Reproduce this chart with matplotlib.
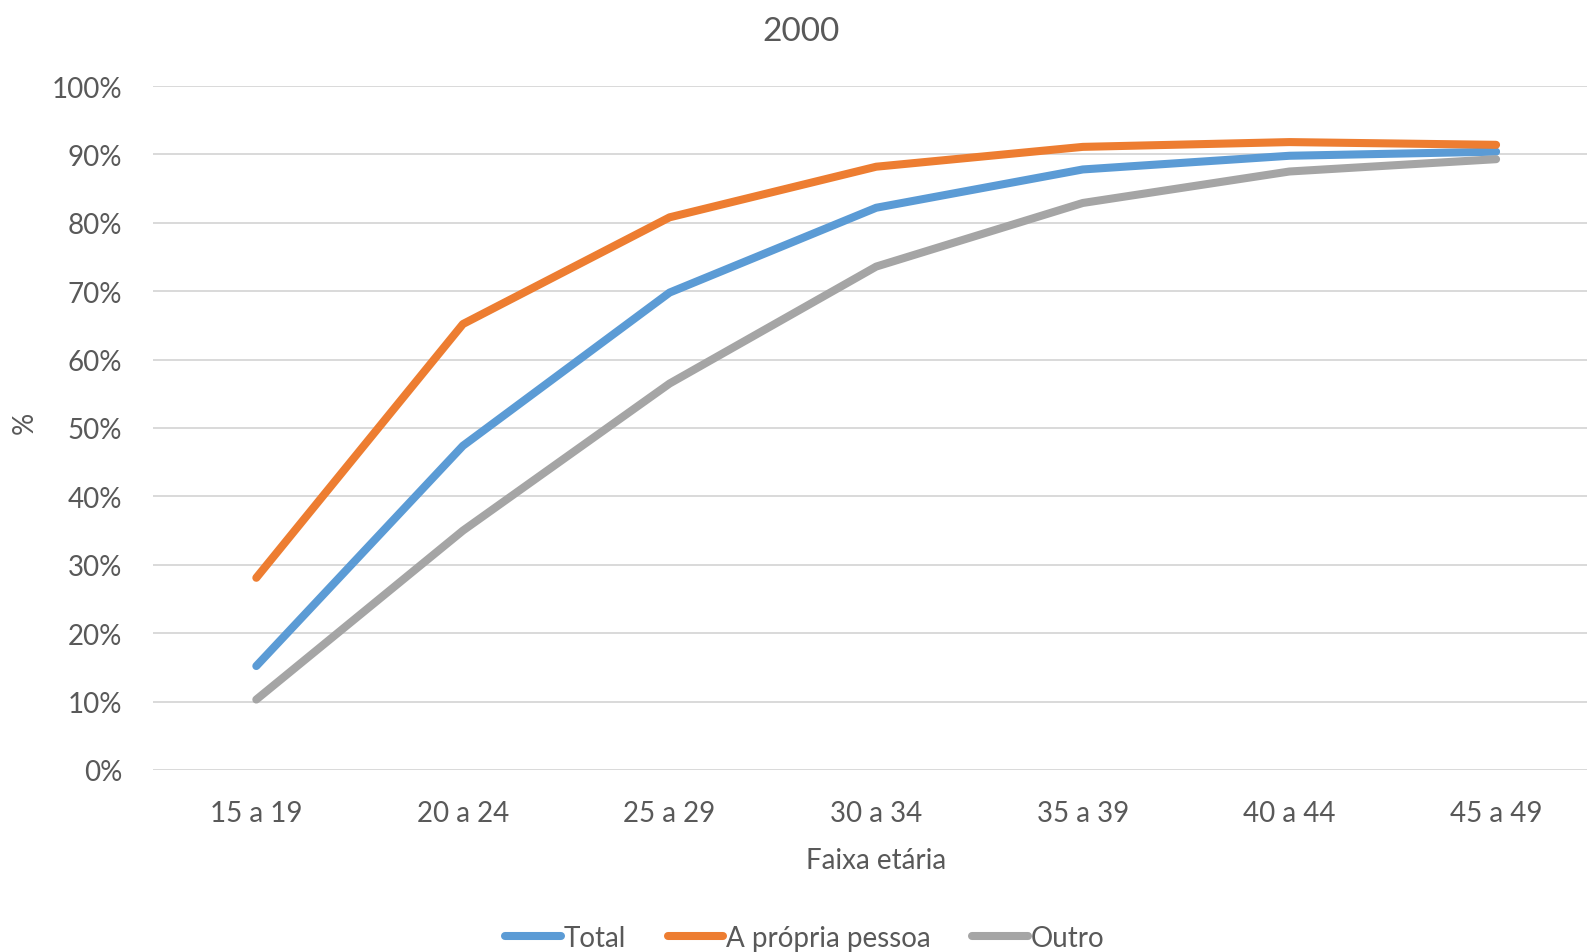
import matplotlib
matplotlib.use("Agg")
import matplotlib.pyplot as plt
from matplotlib.lines import Line2D

categories = ["15 a 19", "20 a 24", "25 a 29", "30 a 34", "35 a 39", "40 a 44", "45 a 49"]
total = [15.2, 47.4, 69.8, 82.2, 87.8, 89.8, 90.4]
propria = [28.1, 65.2, 80.8, 88.2, 91.1, 91.8, 91.4]
outro = [10.3, 35.0, 56.5, 73.6, 82.9, 87.5, 89.3]
yticks = [0, 10, 20, 30, 40, 50, 60, 70, 80, 90, 100]
series_names = ["Total", "A própria pessoa", "Outro"]
colors = ["#5B9BD5", "#ED7D31", "#A5A5A5"]

plt.rcParams['font.family'] = ['Lato', 'DejaVu Sans']
text_color = "#595959"

fig = plt.figure(figsize=(15.87, 9.53), dpi=100)
ax = fig.add_axes([153 / 1587, (953 - 771) / 953, 1 - 153 / 1587, (771 - 87) / 953])

x = list(range(len(categories)))
for vals, c, name in zip([total, propria, outro], colors, series_names):
    ax.plot(x, vals, color=c, lw=5.8, solid_capstyle='round', solid_joinstyle='round', label=name, zorder=3)

ax.set_ylim(0, 100)
ax.set_xlim(-0.5, 6.44)
ax.set_yticks(yticks)
ax.set_yticklabels([f"{v}%" for v in yticks])
ax.set_xticks(x)
ax.set_xticklabels(categories)
ax.tick_params(axis='both', length=0, labelsize=20, colors=text_color)
ax.tick_params(axis='y', pad=22)
ax.tick_params(axis='x', pad=21.5)
ax.grid(axis='y', color="#D9D9D9", lw=1.4, zorder=0)
for s in ax.spines.values():
    s.set_visible(False)

fig.text(801 / 1587, 1 - 32 / 953, "2000", fontsize=24, color=text_color, ha='center', va='center')
ax.set_xlabel("Faixa etária", fontsize=20, color=text_color)
ax.xaxis.label.set_va('center')
ax.xaxis.set_label_coords((876 - 153) / (1587 - 153), (771 - 861) / (771 - 87))
fig.text(25 / 1587, 1 - 423 / 953, "%", rotation=90, fontsize=20, color=text_color, ha='center', va='center')

handles = [Line2D([0], [0], color=c, lw=5.8, solid_capstyle='round') for c in colors]
fig.legend(handles, series_names, loc='center', bbox_to_anchor=(0.507, 0.015), ncol=3, frameon=False,
           fontsize=20, labelcolor=text_color, handlelength=2.0, handletextpad=0.1, columnspacing=1.5)

fig.savefig("out.png", dpi=100)
